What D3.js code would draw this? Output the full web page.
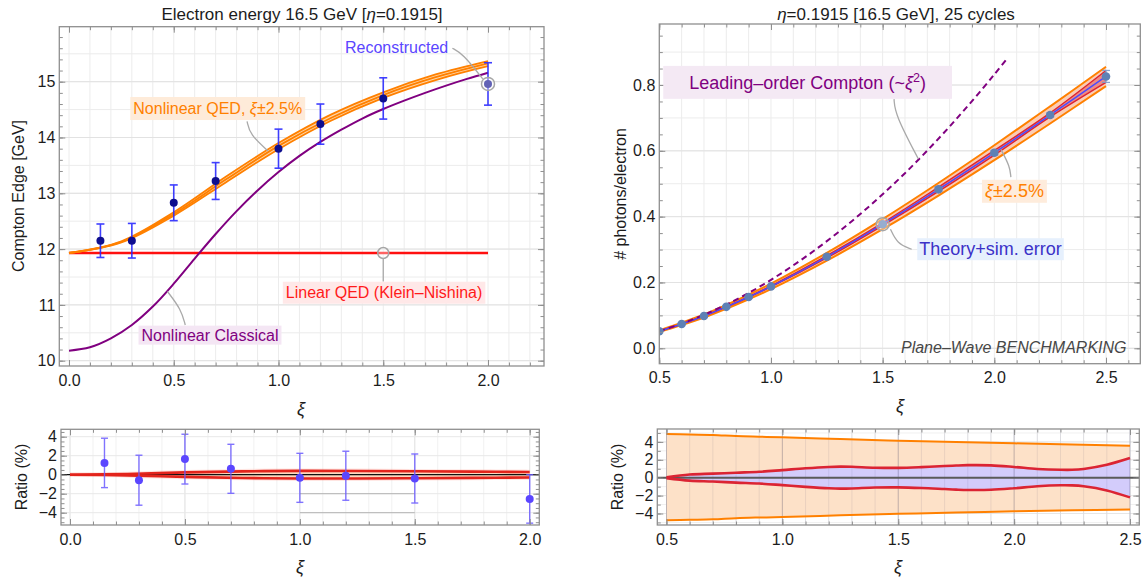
<!DOCTYPE html>
<html>
<head>
<meta charset="utf-8">
<script src="https://cdn.jsdelivr.net/npm/d3@7"></script>
<style>
  body { margin: 0; background: #ffffff; }
  svg { display: block; }
</style>
</head>
<body>
<svg id="fig" width="1146" height="579"></svg>
<script>
// ---------------- Compton edge vs ξ  (16.5 GeV electrons, η = 0.1915) ----------------
const edgeXi        = [0.15, 0.3, 0.5, 0.7, 1.0, 1.2, 1.5, 2.0];
const edgeMeasured  = [12.15, 12.15, 12.83, 13.22, 13.80, 14.24, 14.70, 14.96];
const edgeError     = [0.30, 0.31, 0.32, 0.33, 0.35, 0.36, 0.37, 0.38];

const qedXi         = [0, 0.25, 0.5, 0.75, 1.0, 1.25, 1.5, 1.75, 2.0];
const qedEdge       = [11.93, 12.13, 12.63, 13.25, 13.85, 14.35, 14.76, 15.08, 15.33];
const qedEdgeHigh   = [11.93, 12.14, 12.66, 13.30, 13.90, 14.41, 14.81, 15.13, 15.37];
const qedEdgeLow    = [11.93, 12.12, 12.60, 13.20, 13.79, 14.30, 14.71, 15.03, 15.28];

const classicalXi   = [0, 0.1, 0.2, 0.3, 0.4, 0.5, 0.6, 0.7, 0.8, 0.9, 1.0,
                       1.1, 1.2, 1.3, 1.4, 1.5, 1.6, 1.7, 1.8, 1.9, 2.0];
const classicalEdge = [10.18, 10.24, 10.40, 10.64, 10.97, 11.38, 11.83, 12.27, 12.68, 13.05, 13.38,
                       13.67, 13.92, 14.14, 14.34, 14.51, 14.66, 14.80, 14.93, 15.05, 15.16];

const kleinNishinaXi   = [0, 2.0];
const kleinNishinaEdge = 11.93;

// ratio to nonlinear QED (%)
const edgeRatio     = [1.24, -0.58, 1.64, 0.62, -0.33, -0.11, -0.40, -2.55];
const edgeRatioErr  = [2.60, 2.63, 2.62, 2.58, 2.58, 2.58, 2.58, 2.55];
const qedRatioHigh  = [0, 0.07, 0.24, 0.35, 0.40, 0.39, 0.36, 0.32, 0.28];
const qedRatioLow   = [0, -0.07, -0.23, -0.34, -0.40, -0.40, -0.37, -0.33, -0.30];
const guideXi       = [1.0, 1.5];
const guideLevels   = [-2, -4];

// ---------------- photons per electron vs ξ  (25 cycles) ----------------
const photonXi      = [0.5, 0.6, 0.7, 0.8, 0.9, 1.0, 1.25, 1.5, 1.75, 2.0, 2.25, 2.5];
const photonTheory  = [0.052, 0.074, 0.098, 0.126, 0.156, 0.188, 0.278, 0.377, 0.483, 0.594, 0.709, 0.826];
const photonSim     = [0.052, 0.074, 0.098, 0.126, 0.156, 0.188, 0.278, 0.377, 0.483, 0.594, 0.709, 0.826];

const leadingXi     = [0.5, 0.6, 0.7, 0.8, 0.9, 1.0, 1.1, 1.2, 1.3, 1.4, 1.5,
                       1.6, 1.7, 1.8, 1.9, 2.0, 2.06];
const leadingOrder  = [0.052, 0.075, 0.102, 0.133, 0.168, 0.208, 0.252, 0.300, 0.352, 0.408, 0.468,
                       0.532, 0.601, 0.674, 0.751, 0.832, 0.883];

// ξ ± 2.5 % envelope, as a ratio to theory (%)
const xiBandHigh    = [4.88, 4.82, 4.78, 4.65, 4.58, 4.52, 4.32, 4.14, 3.98, 3.84, 3.70, 3.58];
const xiBandLow     = [-4.75, -4.70, -4.65, -4.52, -4.45, -4.40, -4.20, -4.04, -3.90, -3.76, -3.65, -3.55];

// theory + simulation error envelope (%)
const simErrXi      = [0.5, 0.6, 0.7, 0.8, 0.9, 1.0, 1.1, 1.2, 1.25, 1.3, 1.4, 1.5,
                       1.6, 1.7, 1.75, 1.8, 1.9, 2.0, 2.1, 2.2, 2.25, 2.3, 2.4, 2.5];
const simErrHigh    = [0.05, 0.35, 0.45, 0.56, 0.66, 0.85, 1.05, 1.20, 1.24, 1.22, 1.12, 1.10,
                       1.18, 1.30, 1.36, 1.40, 1.38, 1.20, 0.98, 0.88, 0.88, 0.98, 1.45, 2.20];
const simErrLow     = [-0.05, -0.33, -0.42, -0.55, -0.65, -0.83, -1.02, -1.18, -1.22, -1.20, -1.10, -1.08,
                       -1.15, -1.27, -1.33, -1.37, -1.35, -1.18, -0.96, -0.85, -0.86, -0.96, -1.42, -2.20];

// ---------------- drawing ----------------
const FONT = '"Liberation Sans", Arial, Helvetica, sans-serif';
const FRAME = '#8f8f8f';
const svg = d3.select('#fig').attr('font-family', FONT);
const defs = svg.append('defs');

function steps(a, b, step) {
  const n = Math.round((b - a) / step);
  return d3.range(n + 1).map(i => +(a + i * step).toFixed(6));
}

function panel(name, frame, xd, xr, yd, yr) {
  const [L, T, R, B] = frame;
  const x = d3.scaleLinear().domain(xd).range(xr);
  const y = d3.scaleLinear().domain(yd).range(yr);
  defs.append('clipPath').attr('id', 'clip-' + name).append('rect')
    .attr('x', L).attr('y', T).attr('width', R - L).attr('height', B - T);
  const root = svg.append('g').attr('class', name);
  root.append('rect').attr('x', L).attr('y', T).attr('width', R - L).attr('height', B - T).attr('fill', '#fff');
  const back = root.append('g').attr('clip-path', `url(#clip-${name})`);
  const plot = root.append('g').attr('clip-path', `url(#clip-${name})`);
  const over = root.append('g').attr('clip-path', `url(#clip-${name})`);
  const front = root.append('g');
  return { name, L, T, R, B, x, y, back, plot, over, front };
}

function grid(p, layer, axis, values, color, width) {
  values.forEach(v => {
    if (axis === 'x') {
      const px = p.x(v);
      if (px <= p.L + 0.5 || px >= p.R - 0.5) return;
      layer.append('line').attr('x1', px).attr('x2', px).attr('y1', p.T).attr('y2', p.B)
        .attr('stroke', color).attr('stroke-width', width);
    } else {
      const py = p.y(v);
      if (py <= p.T + 0.5 || py >= p.B - 0.5) return;
      layer.append('line').attr('x1', p.L).attr('x2', p.R).attr('y1', py).attr('y2', py)
        .attr('stroke', color).attr('stroke-width', width);
    }
  });
}

function axes(p, o) {
  const inX = vals => vals.filter(v => p.x(v) >= p.L - 0.1 && p.x(v) <= p.R + 0.1);
  const inY = vals => vals.filter(v => p.y(v) >= p.T - 0.1 && p.y(v) <= p.B + 0.1);
  const put = (axis, tx, ty, withLabels) => {
    const g = p.front.append('g').attr('transform', `translate(${tx},${ty})`).call(axis);
    g.attr('font-family', null).attr('font-size', null);
    g.select('.domain').remove();
    g.selectAll('.tick line').attr('stroke', FRAME).attr('stroke-width', 1);
    if (withLabels) {
      g.selectAll('.tick text').attr('font-size', 16).attr('font-family', FONT).attr('fill', '#1c1c1c');
    } else {
      g.selectAll('.tick text').remove();
    }
  };
  const make = (fn, scale, vals, size, fmt, pad) =>
    fn(scale).tickValues(vals).tickSizeInner(-size).tickSizeOuter(0).tickFormat(fmt || (() => '')).tickPadding(pad || 3);
  const xMaj = inX(o.xMajor), xMin = inX(o.xMinor), yMaj = inY(o.yMajor), yMin = inY(o.yMinor);
  put(make(d3.axisBottom, p.x, xMin, 3.5), 0, p.B, false);
  put(make(d3.axisTop, p.x, xMin, 3.5), 0, p.T, false);
  put(make(d3.axisLeft, p.y, yMin, 3.5), p.L, 0, false);
  put(make(d3.axisRight, p.y, yMin, 3.5), p.R, 0, false);
  put(make(d3.axisBottom, p.x, xMaj, 6, o.xFmt, 8.3), 0, p.B, true);
  put(make(d3.axisTop, p.x, xMaj, 6), 0, p.T, false);
  put(make(d3.axisLeft, p.y, yMaj, 6, o.yFmt, 4), p.L, 0, true);
  put(make(d3.axisRight, p.y, yMaj, 6), p.R, 0, false);
  p.front.append('rect').attr('x', p.L).attr('y', p.T).attr('width', p.R - p.L).attr('height', p.B - p.T)
    .attr('fill', 'none').attr('stroke', FRAME).attr('stroke-width', 1.3);
}

function rich(textSel, parts) {
  parts.forEach(part => {
    const s = textSel.append('tspan').text(part.t);
    if (part.it) s.attr('font-style', 'italic');
    if (part.sup) s.attr('font-size', '70%').attr('dy', '-0.55em');
    if (part.down) s.attr('dy', part.down);
  });
}

function label(p, o) {
  const g = p.front.append('g');
  const t = g.append('text')
    .attr('x', p.x(o.xv)).attr('y', p.y(o.yv)).attr('dy', '0.35em')
    .attr('text-anchor', o.anchor || 'middle')
    .attr('font-size', o.size).attr('fill', o.color);
  if (o.italic) t.attr('font-style', 'italic');
  rich(t, o.parts);
  if (o.bg) {
    const bb = t.node().getBBox();
    g.insert('rect', 'text')
      .attr('x', bb.x - o.padX).attr('y', bb.y - o.padY)
      .attr('width', bb.width + 2 * o.padX).attr('height', bb.height + 2 * o.padY)
      .attr('fill', o.bg);
  }
}

function leader(p, pts) {
  p.front.append('path')
    .attr('d', d3.line().x(d => p.x(d[0])).y(d => p.y(d[1])).curve(d3.curveBasis)(pts))
    .attr('fill', 'none').attr('stroke', '#a9a9a9').attr('stroke-width', 1.3);
}

function ring(p, xv, yv, r) {
  p.front.append('circle').attr('cx', p.x(xv)).attr('cy', p.y(yv)).attr('r', r)
    .attr('fill', 'rgba(255,255,255,0.35)').attr('stroke', '#a6a6a6').attr('stroke-width', 1.5);
}

function errorBars(layer, p, xs, ys, es, color, width, cap, opacity) {
  xs.forEach((xv, i) => {
    const px = p.x(xv), y1 = p.y(ys[i] + es[i]), y2 = p.y(ys[i] - es[i]);
    const g = layer.append('g').attr('stroke', color).attr('stroke-width', width).attr('opacity', opacity);
    g.append('line').attr('x1', px).attr('x2', px).attr('y1', y1).attr('y2', y2);
    g.append('line').attr('x1', px - cap).attr('x2', px + cap).attr('y1', y1).attr('y2', y1);
    g.append('line').attr('x1', px - cap).attr('x2', px + cap).attr('y1', y2).attr('y2', y2);
  });
}

function title(cx, cy, parts, size) {
  const t = svg.append('text').attr('x', cx).attr('y', cy).attr('dy', '0.35em')
    .attr('text-anchor', 'middle').attr('font-size', size).attr('fill', '#1c1c1c');
  rich(t, parts);
}

function vtitle(cx, cy, text, size) {
  svg.append('text').attr('transform', `translate(${cx},${cy}) rotate(-90)`).attr('dy', '0.35em')
    .attr('text-anchor', 'middle').attr('font-size', size).attr('fill', '#1c1c1c').text(text);
}

const fmt1 = d3.format('.1f');
const fmtPct = v => (v < 0 ? '\u2212' + Math.abs(v) : String(v));
const zip = (xs, ys) => xs.map((v, i) => [v, ys[i]]);

// ====== top left: Compton edge ======
const TL = panel('edge', [59.3, 26.7, 544, 366], [0, 2], [69, 488], [10, 15], [360.7, 81.7]);
grid(TL, TL.back, 'x', steps(-0.1, 2.3, 0.1), '#ececec', 1);
grid(TL, TL.back, 'y', steps(9.5, 16, 0.5), '#ececec', 1);
grid(TL, TL.back, 'y', steps(10, 16, 1), '#e2e2e2', 1);

const lineTL = d3.line().x(d => TL.x(d[0])).y(d => TL.y(d[1]));
TL.plot.append('path')
  .attr('d', lineTL(kleinNishinaXi.map(v => [v, kleinNishinaEdge])))
  .attr('stroke', '#ff1010').attr('stroke-width', 2.6).attr('fill', 'none');
TL.plot.append('path')
  .attr('d', lineTL.curve(d3.curveCatmullRom)(zip(classicalXi, classicalEdge)))
  .attr('stroke', '#800080').attr('stroke-width', 2).attr('fill', 'none');

const areaTL = d3.area().x(d => TL.x(d[0])).y0(d => TL.y(d[1])).y1(d => TL.y(d[2])).curve(d3.curveCatmullRom);
TL.plot.append('path').attr('d', areaTL(qedXi.map((v, i) => [v, qedEdgeLow[i], qedEdgeHigh[i]])))
  .attr('fill', '#ffd6a8');
[qedEdgeHigh, qedEdge, qedEdgeLow].forEach(series => {
  TL.plot.append('path')
    .attr('d', d3.line().x(d => TL.x(d[0])).y(d => TL.y(d[1])).curve(d3.curveCatmullRom)(zip(qedXi, series)))
    .attr('stroke', '#ff8000').attr('stroke-width', 1.8).attr('fill', 'none');
});
errorBars(TL.plot, TL, edgeXi, edgeMeasured, edgeError, '#2b2bff', 1.6, 4, 0.9);
TL.plot.selectAll('circle.pt').data(edgeXi).join('circle').attr('class', 'pt')
  .attr('cx', d => TL.x(d)).attr('cy', (d, i) => TL.y(edgeMeasured[i])).attr('r', 4)
  .attr('fill', '#0e0e8e');

axes(TL, { xMajor: steps(0, 2, 0.5), xMinor: steps(-0.1, 2.3, 0.1), yMajor: steps(10, 15, 1),
           yMinor: steps(9.8, 16, 0.2), xFmt: fmt1, yFmt: d3.format('d') });

ring(TL, 2.0, edgeMeasured[7], 6.5);
ring(TL, 1.5, kleinNishinaEdge, 5.5);
leader(TL, [[1.83, 15.60], [1.88, 15.50], [1.975, 15.05]]);
label(TL, { xv: 1.81, yv: 15.61, anchor: 'end', parts: [{ t: 'Reconstructed' }], color: '#5a46ff', size: 16 });
leader(TL, [[0.85, 14.29], [0.864, 14.05], [0.95, 13.76]]);
label(TL, { xv: 0.71, yv: 14.53, parts: [{ t: 'Nonlinear QED, ' }, { t: 'ξ', it: true }, { t: '±2.5%' }],
            color: '#ff8000', bg: '#feebd9', size: 16, padX: 3, padY: 2.5 });
leader(TL, [[0.555, 10.64], [0.535, 10.92], [0.47, 11.24]]);
label(TL, { xv: 0.673, yv: 10.46, parts: [{ t: 'Nonlinear Classical' }],
            color: '#800080', bg: '#f4e6f4', size: 16, padX: 3, padY: 1 });
leader(TL, [[1.5, 11.84], [1.5, 11.6], [1.5, 11.42]]);
label(TL, { xv: 1.504, yv: 11.22, parts: [{ t: 'Linear QED (Klein\u2013Nishina)' }],
            color: '#ff1a1a', bg: '#ffe8e8', size: 16, padX: 3, padY: 2.5 });

title(302, 14, [{ t: 'Electron energy 16.5 GeV [' }, { t: 'η', it: true }, { t: '=0.1915]' }], 17);
vtitle(18, 196, 'Compton Edge [GeV]', 16);
svg.append('text').attr('x', 301).attr('y', 409).attr('dy', '0.35em').attr('text-anchor', 'middle')
  .attr('font-size', 18).attr('font-style', 'italic').attr('fill', '#1c1c1c').text('ξ');

// ====== bottom left: ratio of Compton edge ======
const BL = panel('edgeRatio', [61, 429.3, 539.3, 525], [0, 2], [70, 529.7], [-4, 4], [512.7, 436.7]);
grid(BL, BL.back, 'x', steps(0, 2, 0.1), '#f1f1f1', 1);
grid(BL, BL.back, 'x', steps(0, 2, 0.5), '#e4e4e4', 1);
grid(BL, BL.back, 'y', steps(-4, 4, 2), '#e8e8e8', 1);
guideLevels.forEach(level => {
  BL.back.append('line').attr('x1', BL.x(guideXi[0])).attr('x2', BL.x(guideXi[1]))
    .attr('y1', BL.y(level)).attr('y2', BL.y(level)).attr('stroke', '#b4b4b4').attr('stroke-width', 1);
});
const areaBL = d3.area().x(d => BL.x(d[0])).y0(d => BL.y(d[1])).y1(d => BL.y(d[2])).curve(d3.curveCatmullRom);
BL.plot.append('path').attr('d', areaBL(qedXi.map((v, i) => [v, qedRatioLow[i] - 0.25, qedRatioHigh[i] + 0.25])))
  .attr('fill', 'rgba(255,110,90,0.18)');
BL.plot.append('path').attr('d', areaBL(qedXi.map((v, i) => [v, qedRatioLow[i], qedRatioHigh[i]])))
  .attr('fill', 'rgba(250,200,150,0.45)');
BL.plot.append('line').attr('x1', BL.L).attr('x2', BL.R).attr('y1', BL.y(0)).attr('y2', BL.y(0))
  .attr('stroke', '#111').attr('stroke-width', 1.3);
[qedRatioHigh, qedRatioLow].forEach(series => {
  BL.plot.append('path')
    .attr('d', d3.line().x(d => BL.x(d[0])).y(d => BL.y(d[1])).curve(d3.curveCatmullRom)(zip(qedXi, series)))
    .attr('stroke', '#e3241c').attr('stroke-width', 2.6).attr('fill', 'none');
});
errorBars(BL.plot, BL, edgeXi, edgeRatio, edgeRatioErr, '#6b5bff', 1.4, 3.5, 0.85);
BL.plot.selectAll('circle.pt').data(edgeXi).join('circle').attr('class', 'pt')
  .attr('cx', d => BL.x(d)).attr('cy', (d, i) => BL.y(edgeRatio[i])).attr('r', 4)
  .attr('fill', '#5b46ff');
axes(BL, { xMajor: steps(0, 2, 0.5), xMinor: steps(0, 2, 0.1), yMajor: steps(-4, 4, 2),
           yMinor: steps(-5, 4.5, 0.5), xFmt: fmt1, yFmt: fmtPct });
vtitle(21, 477, 'Ratio (%)', 16);
svg.append('text').attr('x', 300).attr('y', 567).attr('dy', '0.35em').attr('text-anchor', 'middle')
  .attr('font-size', 18).attr('font-style', 'italic').attr('fill', '#1c1c1c').text('ξ');

// ====== top right: photons per electron ======
const TR = panel('photons', [659.3, 24, 1140.3, 363.7], [0.5, 2.5], [659.3, 1106], [0, 0.8], [348.3, 85]);
grid(TR, TR.back, 'x', steps(0.5, 2.6, 0.1), '#ececec', 1);
grid(TR, TR.back, 'y', steps(-0.1, 1.0, 0.1), '#ececec', 1);
grid(TR, TR.back, 'y', steps(0, 0.8, 0.2), '#e2e2e2', 1);

const simAt = (arr, xv) => arr[simErrXi.findIndex(s => Math.abs(s - xv) < 1e-6)];
const bandTR = photonXi.map((v, i) => ({
  x: v,
  oHi: photonTheory[i] * (1 + xiBandHigh[i] / 100),
  oLo: photonTheory[i] * (1 + xiBandLow[i] / 100),
  rHi: photonTheory[i] * (1 + simAt(simErrHigh, v) / 100),
  rLo: photonTheory[i] * (1 + simAt(simErrLow, v) / 100)
}));
const areaTR = (lo, hi) => d3.area().x(d => TR.x(d.x)).y0(d => TR.y(d[lo])).y1(d => TR.y(d[hi])).curve(d3.curveCatmullRom);
const lineTR = key => d3.line().x(d => TR.x(d.x)).y(d => TR.y(d[key])).curve(d3.curveCatmullRom);
TR.plot.append('path').attr('d', areaTR('oLo', 'oHi')(bandTR)).attr('fill', '#fbcdb5');
TR.plot.append('path').attr('d', areaTR('rLo', 'rHi')(bandTR)).attr('fill', 'rgba(225,60,70,0.45)');
['oHi', 'oLo'].forEach(k => TR.plot.append('path').attr('d', lineTR(k)(bandTR))
  .attr('stroke', '#ff8000').attr('stroke-width', 2).attr('fill', 'none'));
['rHi', 'rLo'].forEach(k => TR.plot.append('path').attr('d', lineTR(k)(bandTR))
  .attr('stroke', '#de2430').attr('stroke-width', 1.4).attr('fill', 'none'));
TR.plot.append('path')
  .attr('d', d3.line().x(d => TR.x(d[0])).y(d => TR.y(d[1])).curve(d3.curveCatmullRom)(zip(photonXi, photonTheory)))
  .attr('stroke', '#4b4bff').attr('stroke-width', 1.5).attr('fill', 'none');
TR.plot.append('path')
  .attr('d', d3.line().x(d => TR.x(d[0])).y(d => TR.y(d[1])).curve(d3.curveCatmullRom)(zip(leadingXi, leadingOrder)))
  .attr('stroke', '#800080').attr('stroke-width', 2).attr('stroke-dasharray', '6,4').attr('fill', 'none');
const photonErr = photonXi.map((v, i) => photonTheory[i] * simAt(simErrHigh, v) / 100);
errorBars(TR.plot, TR, photonXi, photonSim, photonErr, '#7d9ccc', 1.3, 4, 0.9);
TR.plot.selectAll('circle.pt').data(photonXi).join('circle').attr('class', 'pt')
  .attr('cx', d => TR.x(d)).attr('cy', (d, i) => TR.y(photonSim[i])).attr('r', 4.3)
  .attr('fill', '#5e81b5');

axes(TR, { xMajor: steps(0.5, 2.5, 0.5), xMinor: steps(0.5, 2.6, 0.1), yMajor: steps(0, 0.8, 0.2),
           yMinor: steps(-0.05, 0.95, 0.05), xFmt: fmt1, yFmt: fmt1 });

label(TR, { xv: 1.164, yv: 0.806, parts: [{ t: 'Leading\u2013order Compton (~' }, { t: 'ξ', it: true },
            { t: '2', sup: true }, { t: ')', down: '0.385em' }],
            color: '#800080', bg: '#f4e9f4', size: 18, padX: 26, padY: 5.5 });
leader(TR, [[1.551, 0.757], [1.556, 0.71], [1.66, 0.575]]);
ring(TR, 1.5, photonSim[7], 6.5);
leader(TR, [[1.535, 0.362], [1.565, 0.318], [1.63, 0.301]]);
label(TR, { xv: 1.983, yv: 0.302, parts: [{ t: 'Theory+sim. error' }],
            color: '#3b32c8', bg: '#e6f0fd', size: 18, padX: 2, padY: 1 });
leader(TR, [[2.03, 0.604], [2.07, 0.552], [2.074, 0.52]]);
label(TR, { xv: 2.09, yv: 0.478, parts: [{ t: 'ξ', it: true }, { t: '±2.5%' }],
            color: '#ff8000', bg: '#feecdc', size: 18, padX: 3, padY: 1.5 });
label(TR, { xv: 2.592, yv: 0.004, anchor: 'end', italic: true, parts: [{ t: 'Plane\u2013Wave BENCHMARKING' }],
            color: '#474747', size: 16 });

title(896, 14, [{ t: 'η', it: true }, { t: '=0.1915 [16.5 GeV], 25 cycles' }], 17);
vtitle(620, 194, '# photons/electron', 16);
svg.append('text').attr('x', 900).attr('y', 406).attr('dy', '0.35em').attr('text-anchor', 'middle')
  .attr('font-size', 18).attr('font-style', 'italic').attr('fill', '#1c1c1c').text('ξ');

// ====== bottom right: ratio of photon yield ======
const BR = panel('photonRatio', [657.3, 429, 1139.3, 525], [0.5, 2.5], [666.5, 1130], [-4, 4], [513.5, 441.9]);
grid(BR, BR.back, 'y', steps(-5, 5, 1), '#f0f0f0', 1);
grid(BR, BR.back, 'y', steps(-4, 4, 2), '#e6e6e6', 1);
grid(BR, BR.back, 'x', steps(0.5, 2.5, 0.1), '#eeeeee', 1);
const areaBR = (hi, lo, xs) => d3.area().x((d, i) => BR.x(xs[i])).y0((d, i) => BR.y(lo[i])).y1((d, i) => BR.y(hi[i]))
  .curve(d3.curveCatmullRom)(xs);
BR.plot.append('path').attr('d', areaBR(xiBandHigh, xiBandLow, photonXi)).attr('fill', '#fde1c8');
BR.plot.append('path').attr('d', areaBR(simErrHigh, simErrLow, simErrXi)).attr('fill', '#d3ccfb');
grid(BR, BR.over, 'x', steps(0.5, 2.5, 0.1), 'rgba(70,70,110,0.10)', 1);
grid(BR, BR.over, 'x', steps(0.5, 2.5, 0.5), 'rgba(60,60,90,0.22)', 1);
BR.over.append('line').attr('x1', BR.L).attr('x2', BR.R).attr('y1', BR.y(0)).attr('y2', BR.y(0))
  .attr('stroke', '#5a5a5a').attr('stroke-width', 2);
[xiBandHigh, xiBandLow].forEach(series => BR.over.append('path')
  .attr('d', d3.line().x(d => BR.x(d[0])).y(d => BR.y(d[1])).curve(d3.curveCatmullRom)(zip(photonXi, series)))
  .attr('stroke', '#ff8000').attr('stroke-width', 2).attr('fill', 'none'));
[simErrHigh, simErrLow].forEach(series => BR.over.append('path')
  .attr('d', d3.line().x(d => BR.x(d[0])).y(d => BR.y(d[1])).curve(d3.curveCatmullRom)(zip(simErrXi, series)))
  .attr('stroke', '#db2433').attr('stroke-width', 2.6).attr('fill', 'none'));
axes(BR, { xMajor: steps(0.5, 2.5, 0.5), xMinor: steps(0.5, 2.5, 0.1), yMajor: steps(-4, 4, 2),
           yMinor: steps(-5, 5, 1), xFmt: fmt1, yFmt: fmtPct });
vtitle(617, 477, 'Ratio (%)', 16);
svg.append('text').attr('x', 898).attr('y', 567).attr('dy', '0.35em').attr('text-anchor', 'middle')
  .attr('font-size', 18).attr('font-style', 'italic').attr('fill', '#1c1c1c').text('ξ');
</script>
</body>
</html>
